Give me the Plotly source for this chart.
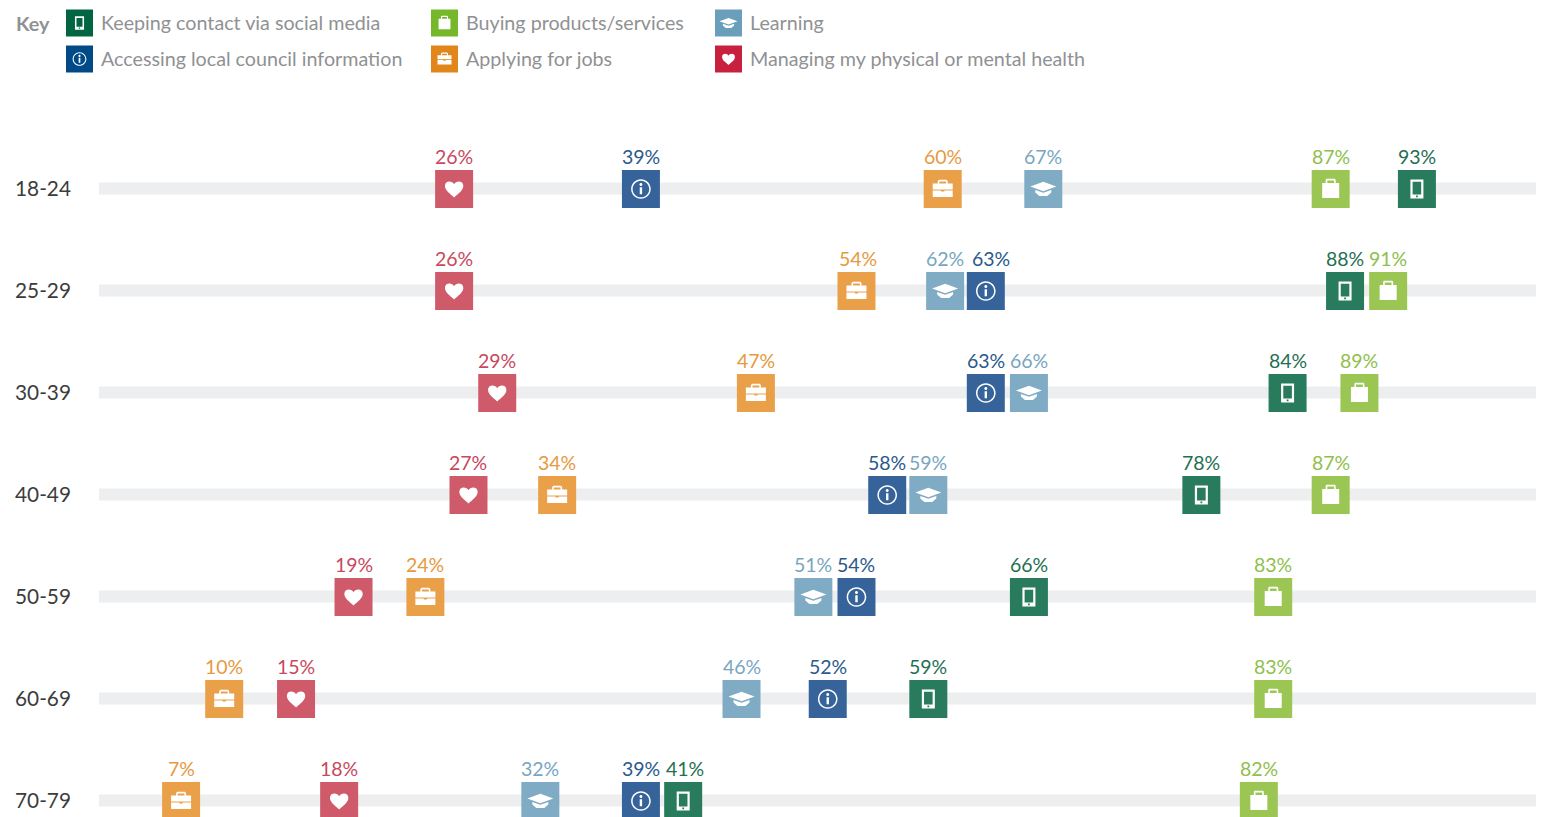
import re
import plotly.graph_objects as go

AGE_GROUPS = ["18-24", "25-29", "30-39", "40-49", "50-59", "60-69", "70-79"]
SERIES_NAMES = ["Keeping contact via social media", "Accessing local council information",
                "Buying products/services", "Applying for jobs", "Learning",
                "Managing my physical or mental health"]
SOCIAL = [93, 88, 84, 78, 66, 59, 41]
COUNCIL = [39, 63, 63, 58, 54, 52, 39]
BUYING = [87, 91, 89, 87, 83, 83, 82]
JOBS = [60, 54, 47, 34, 24, 10, 7]
LEARNING = [67, 62, 66, 59, 51, 46, 32]
HEALTH = [26, 26, 29, 27, 19, 15, 18]
# The reference nudges a few markers sideways so that they do not collide (in % points).
DODGE = {("social", 6): 0.94, ("council", 3): -1.86, ("jobs", 3): -0.83, ("learning", 1): -1.83}
# ... and a few labels relative to their marker (in pixels).
LABEL_SHIFT = {("council", 1): 5, ("jobs", 1): 2, ("social", 6): 2}

W, H, ML = 1541, 817, 76
X0, XS = 80.5, 14.37      # pixel of 0 %, pixels per %
Y0, YS = 189.0, 102.0     # pixel of first row, pixels per row

def circle(cx, cy, r):
    k = 0.5523 * r
    return (f"M{cx+r},{cy} C{cx+r},{cy+k} {cx+k},{cy+r} {cx},{cy+r} "
            f"C{cx-k},{cy+r} {cx-r},{cy+k} {cx-r},{cy} "
            f"C{cx-r},{cy-k} {cx-k},{cy-r} {cx},{cy-r} "
            f"C{cx+k},{cy-r} {cx+r},{cy-k} {cx+r},{cy} Z ")

def rect(x0, y0, x1, y1):
    return f"M{x0},{y0} L{x1},{y0} L{x1},{y1} L{x0},{y1} Z "

def icon(kind, s=1.0):
    if kind == "tablet":
        d = rect(-6.5, -9.5, 6.5, 9.5) + rect(-4.3, -5.5, 4.3, 7.3) + rect(-0.9, -8.2, 0.9, -6.6)
    elif kind == "info":
        d = circle(0, 0, 9.8) + circle(0, 0, 8.3) + circle(0, 4.4, 1.5) + rect(-1.2, -5.2, 1.2, 1.8)
    elif kind == "bag":
        d = ("M-8.5,-9 L8.5,-9 L8.5,6 L5,6 L5,8.7 C5,9.7 4.5,10.2 3.5,10.2 L-3.5,10.2 "
             "C-4.5,10.2 -5,9.7 -5,8.7 L-5,6 L-8.5,6 Z M-3.4,6 L3.4,6 L3.4,8.6 L-3.4,8.6 Z")
    elif kind == "case":
        d = ("M-10,-8 L10,-8 L10,-1.4 L1.6,-1.4 L1.6,-2.6 L-1.6,-2.6 L-1.6,-1.4 L-10,-1.4 Z "
             "M-10,-0.4 L10,-0.4 L10,5.4 L5,5.4 L5,8 L3.8,9.2 L-3.8,9.2 L-5,8 L-5,5.4 L-10,5.4 Z "
             "M-3.4,5.4 L3.4,5.4 L3.4,7.6 L-3.4,7.6 Z")
    elif kind == "cap":
        d = ("M-13,2.5 L0,7.2 L13,2.5 L0,-2.2 Z "
             "M-8,-1 L0,-3.8 L8,-1 L8,-3.6 L4,-7 L-4,-7 L-8,-3.6 Z")
    else:
        d = ("M0,-8.4 C-4,-4.8 -9.2,-1.2 -9.2,3 C-9.2,6 -7,7.4 -4.8,7.4 C-2.7,7.4 -1,6.4 0,4.8 "
             "C1,6.4 2.7,7.4 4.8,7.4 C7,7.4 9.2,6 9.2,3 C9.2,-1.2 4,-4.8 0,-8.4 Z")
    if s != 1.0:
        d = re.sub(r"-?\d+\.?\d*", lambda m: f"{float(m.group())*s:.2f}", d)
    return d

STYLES = [
    ("social", SOCIAL, "tablet", "#287b5d", "#1f6f52", "#006540"),
    ("council", COUNCIL, "info", "#366399", "#2a5a8c", "#004b87"),
    ("buying", BUYING, "bag", "#9bc654", "#8fc04b", "#76b82a"),
    ("jobs", JOBS, "case", "#e9a049", "#e69a3e", "#e0861a"),
    ("learning", LEARNING, "cap", "#7fabc5", "#78a6c1", "#6a9fbc"),
    ("health", HEALTH, "heart", "#cf5a6a", "#c9485e", "#c8203f"),
]
FONT = "Lato, 'Open Sans', sans-serif"

fig = go.Figure()
shapes = []
ann = []
def px(x): return (x - ML) / (W - ML)
def py(y): return 1 - y / H

for r in range(len(AGE_GROUPS)):
    shapes.append(dict(type="rect", xref="paper", yref="y", x0=px(99), x1=px(1536),
                       ysizemode="pixel", yanchor=r, y0=-5.5, y1=6.5,
                       fillcolor="#edeef0", line_width=0, layer="below"))

for name, (key, vals, kind, col, tcol, keycol) in zip(SERIES_NAMES, STYLES):
    xs = [v + DODGE.get((key, i), 0) for i, v in enumerate(vals)]
    fig.add_trace(go.Scatter(
        x=xs, y=list(range(len(vals))), mode="markers", name=name,
        marker=dict(symbol="square", size=38, color=col, line_width=0),
        customdata=vals, hovertemplate="%{customdata}%<extra>" + name + "</extra>",
        cliponaxis=False, showlegend=False))
    for i, (v, x) in enumerate(zip(vals, xs)):
        shapes.append(dict(type="path", xref="x", yref="y", xsizemode="pixel", ysizemode="pixel",
                           xanchor=x, yanchor=i, path=icon(kind), fillcolor="white",
                           line_width=0, layer="above", fillrule="evenodd"))
        ann.append(dict(text=f"{v}%", xref="x", yref="y", x=x, y=i, yshift=33,
                        xshift=LABEL_SHIFT.get((key, i), 0), xanchor="center",
                        yanchor="middle", showarrow=False,
                        font=dict(family=FONT, size=19.5, color=tcol)))

KEY_POS = [(66, 23), (66, 59), (431, 23), (431, 59), (715, 23), (715, 59)]
ann.append(dict(text="<b>Key</b>", xref="paper", yref="paper", x=px(14.5), y=py(22.5), xanchor="left",
                yanchor="middle", showarrow=False, font=dict(family=FONT, size=19.8, color="#8f9193")))
for name, (key, vals, kind, col, tcol, keycol), (kx, ky) in zip(SERIES_NAMES, STYLES, KEY_POS):
    shapes.append(dict(type="rect", xref="paper", yref="paper", x0=px(kx), x1=px(kx + 27),
                       y0=py(ky + 13.5), y1=py(ky - 13.5), fillcolor=keycol, line_width=0))
    shapes.append(dict(type="path", xref="paper", yref="paper", xsizemode="pixel", ysizemode="pixel",
                       xanchor=px(kx + 13.5), yanchor=py(ky), path=icon(kind, 0.7), fillcolor="white",
                       line_width=0, fillrule="evenodd"))
    ann.append(dict(text=name, xref="paper", yref="paper", x=px(kx + (32.5 if kx == 66 else 33)), y=py(ky - 0.8),
                    xanchor="left", yanchor="middle", showarrow=False,
                    font=dict(family=FONT, size=19.7, color="#8f9193")))

fig.update_layout(
    width=W, height=H, margin=dict(l=ML, r=0, t=0, b=0, pad=0), paper_bgcolor="white", plot_bgcolor="white",
    showlegend=False, shapes=shapes, annotations=ann,
    xaxis=dict(range=[(ML - X0) / XS, (W - X0) / XS], visible=False, fixedrange=True),
    yaxis=dict(range=[(H - Y0) / YS, -Y0 / YS], tickvals=list(range(len(AGE_GROUPS))), ticktext=AGE_GROUPS,
               showgrid=False, zeroline=False, showline=False, ticks="", fixedrange=True, ticklabelstandoff=4,
               tickfont=dict(family=FONT, size=20.8, color="#3c3c3c")),
)
fig.write_html("out.html", config=dict(displayModeBar=False),
               post_script="document.body.style.margin='0';document.body.style.overflow='hidden';")
